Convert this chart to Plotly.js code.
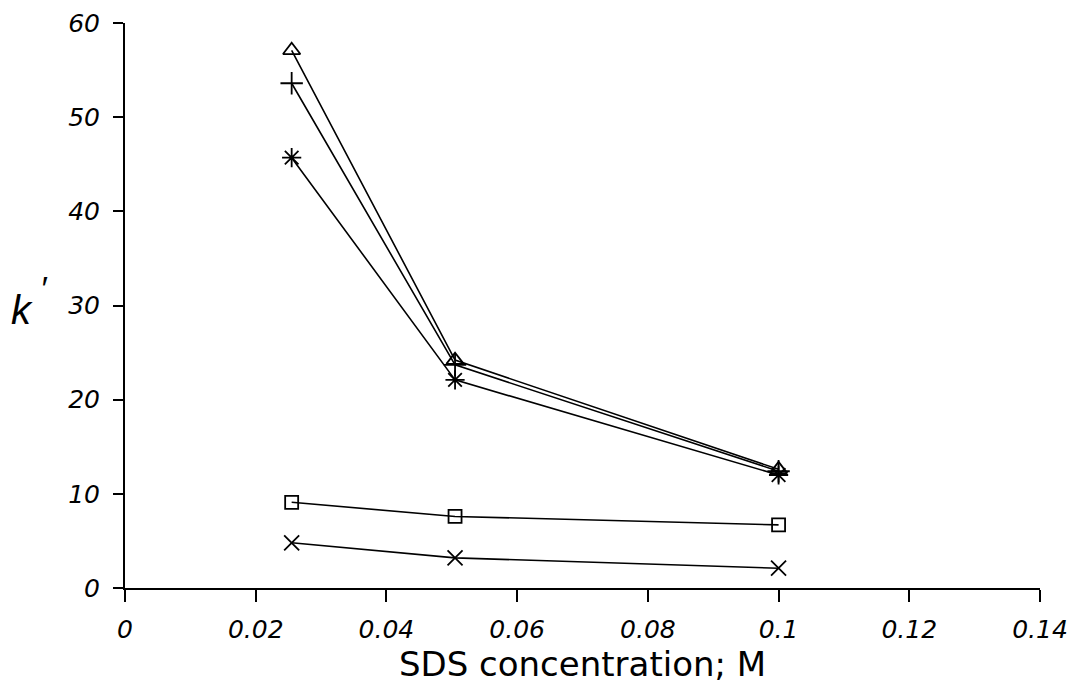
<!DOCTYPE html>
<html><head><meta charset="utf-8">
<script src="https://cdn.plot.ly/plotly-3.0.1.min.js"></script>
<style>html,body{margin:0;padding:0;background:#fff}</style>
</head><body>
<div id="chart" style="width:1071px;height:693px"></div>
<script>
const sdsConc = [0.0255, 0.0505, 0.1];
const triangleSeries = [57.1, 24.2, 12.6];
const plusSeries = [53.6, 23.7, 12.4];
const asteriskSeries = [45.7, 22.1, 12.0];
const squareSeries = [9.1, 7.6, 6.7];
const xSeries = [4.8, 3.2, 2.1];
const xTicks = [0, 0.02, 0.04, 0.06, 0.08, 0.1, 0.12, 0.14];
const xTickLabels = ['0', '0.02', '0.04', '0.06', '0.08', '0.1', '0.12', '0.14'];
const yTicks = [0, 10, 20, 30, 40, 50, 60];

function tr(y, sym, size) {
  return {x: sdsConc, y: y, mode: 'lines+markers', type: 'scatter',
    line: {color: '#000', width: 1.6},
    marker: {symbol: sym, size: size, color: '#000', line: {color: '#000', width: 1.8}},
    showlegend: false, hoverinfo: 'none'};
}
const data = [
  tr(triangleSeries, 'triangle-up-open', 15),
  tr(plusSeries, 'cross-thin-open', 16),
  tr(asteriskSeries, 'asterisk-open', 16),
  tr(squareSeries, 'square-open', 13),
  tr(xSeries, 'x-thin-open', 15)
];
const tickFont = {family: 'DejaVu Sans, sans-serif', size: 25, color: '#000'};
const layout = {
  width: 1071, height: 693,
  margin: {l: 125, r: 31, t: 23, b: 105},
  paper_bgcolor: '#fff', plot_bgcolor: '#fff',
  xaxis: {range: [0, 0.14], tickvals: xTicks, ticktext: xTickLabels,
    showgrid: false, zeroline: false, showline: true, linecolor: '#000', linewidth: 2,
    ticks: 'outside', ticklen: 12, tickwidth: 2, tickcolor: '#000',
    tickfont: tickFont, ticklabelstandoff: 6,
    title: {text: 'SDS concentration; M', font: {family: 'DejaVu Sans, sans-serif', size: 34, color: '#000'}, standoff: 4}},
  yaxis: {range: [0, 60], tickvals: yTicks,
    showgrid: false, zeroline: false, showline: true, linecolor: '#000', linewidth: 2,
    ticks: 'outside', ticklen: 10, tickwidth: 2, tickcolor: '#000',
    tickfont: tickFont, ticklabelstandoff: 8},
  annotations: [
    {xref: 'paper', yref: 'paper', x: -0.1126, y: 0.492, xanchor: 'center', yanchor: 'middle',
     text: "<i>k</i>", showarrow: false,
     font: {family: 'Liberation Sans, Arial, sans-serif', size: 40, color: '#000'}},
    {xref: 'paper', yref: 'paper', x: -0.0885, y: 0.531, xanchor: 'center', yanchor: 'middle',
     text: "<i>′</i>", showarrow: false,
     font: {family: 'Liberation Sans, Arial, sans-serif', size: 34, color: '#000'}}
  ]
};
Plotly.newPlot('chart', data, layout, {displayModeBar: false, staticPlot: true}).then(() => {
  document.querySelectorAll('.xtick text, .ytick text').forEach(t => t.style.fontStyle = 'italic');
});
</script>
</body></html>
